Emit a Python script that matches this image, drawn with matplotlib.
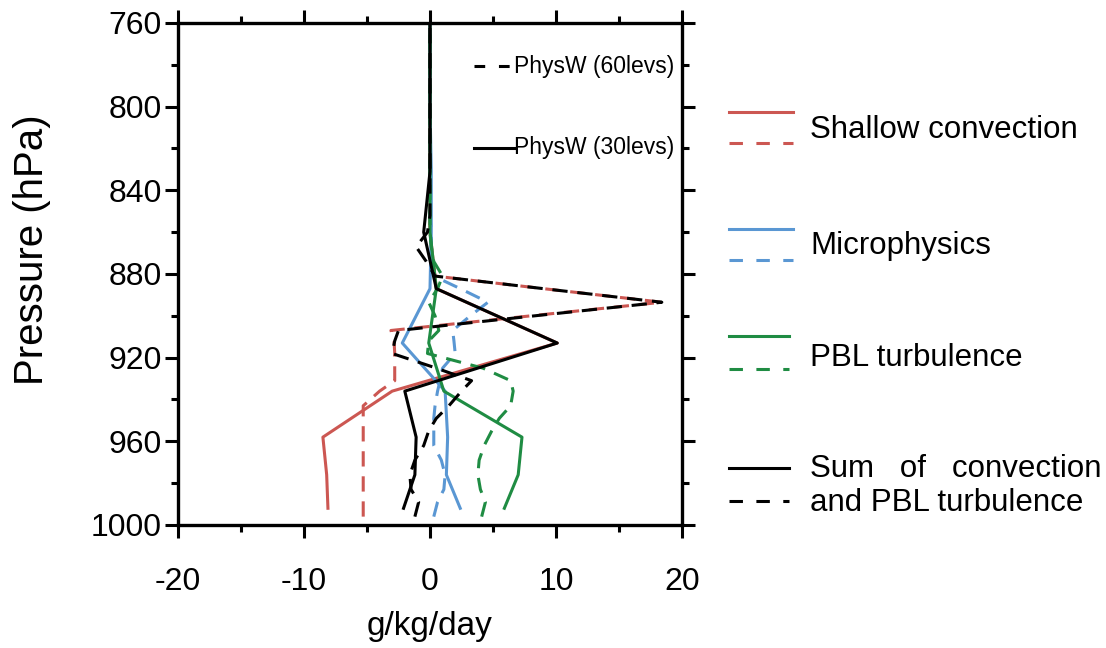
import numpy as np
import matplotlib
matplotlib.use('Agg')
import matplotlib.pyplot as plt
from matplotlib.lines import Line2D

# pressure levels (hPa) of the two vertical grids
LEV30 = [992, 976, 958, 936, 913, 887, 860, 831, 800, 768, 735]
LEV60 = [996, 989, 983, 976, 969, 962, 955, 949, 943, 936, 931, 925, 918, 912,
         907, 900, 893.5, 887, 881, 874, 867, 860, 852, 843, 833, 822, 810,
         797, 783, 768, 752]

# tendencies (g/kg/day), 30-level run
SHALLOW30 = [-8.1, -8.2, -8.5, -3.0, 10.1, 0.5, 0.0, 0.0, 0.0, 0.0, 0.0]
MICRO30   = [2.4, 1.3, 1.4, 1.2, -2.2, 0.0, 0.1, 0.1, 0.0, 0.0, 0.0]
PBL30     = [5.9, 7.0, 7.3, 1.1, -0.1, 0.5, 0.0, 0.0, 0.0, 0.0, 0.0]
SUM30     = [-2.1, -1.2, -1.1, -2.0, 10.1, 0.5, -0.5, 0.0, 0.0, 0.0, 0.0]

# tendencies (g/kg/day), 60-level run
SHALLOW60 = [-5.3, -5.3, -5.3, -5.3, -5.3, -5.3, -5.3, -5.3, -5.3, -4.0, -2.8,
             -2.8, -2.8, -2.85, -3.1, 8.0, 18.4, 9.0, 0.4, 0.2, 0.1, 0.0, 0.0,
             0.0, 0.0, 0.0, 0.0, 0.0, 0.0, 0.0, 0.0]
MICRO60   = [0.3, 0.6, 1.1, 1.2, 0.9, 0.3, 0.3, 0.3, 0.4, 0.6, 0.8, 1.0, 2.0,
             1.9, 1.8, 3.2, 4.6, 2.4, 0.3, 0.2, 0.1, 0.1, 0.0, 0.0, 0.0, 0.0,
             0.0, 0.0, 0.0, 0.0, 0.0]
PBL60     = [4.1, 4.4, 4.0, 3.8, 3.9, 4.3, 4.9, 5.5, 6.4, 6.6, 6.4, 4.2, -0.2,
             -0.1, 0.7, 0.4, -0.1, 0.6, 1.0, 0.3, 0.1, 0.0, 0.0, 0.0, 0.0, 0.0,
             0.0, 0.0, 0.0, 0.0, 0.0]
SUM60     = [-1.2, -0.9, -1.5, -1.6, -1.2, -0.5, -0.1, 0.5, 1.5, 2.5, 3.3, 0.5,
             -3.0, -2.8, -2.5, 8.3, 18.4, 9.0, 0.4, -0.3, -1.1, -0.2, 0.0, 0.0,
             0.0, 0.0, 0.0, 0.0, 0.0, 0.0, 0.0]

RED   = '#CC5752'
BLUE  = '#5A97D3'
GREEN = '#1F8C43'
BLACK = 'black'

LW = 2.2
DASH = (5, 3.2)

plt.rcParams['font.family'] = ['Liberation Sans', 'DejaVu Sans']
plt.rcParams['axes.unicode_minus'] = False

W, H = 1106, 648
fig = plt.figure(figsize=(W / 100, H / 100), dpi=100)
ax = fig.add_axes([178 / W, 1 - 525 / H, 504 / W, 502 / H])

series = [
    (SHALLOW30, SHALLOW60, RED),
    (MICRO30, MICRO60, BLUE),
    (PBL30, PBL60, GREEN),
    (SUM30, SUM60, BLACK),
]
for v30, v60, col in series:
    ax.plot(v60, LEV60, color=col, lw=LW, dashes=DASH)
    ax.plot(v30, LEV30, color=col, lw=LW)

ax.set_xlim(-20, 20)
ax.set_ylim(1000, 760)
ax.set_xticks([-20, -10, 0, 10, 20])
ax.set_xticks(np.arange(-20, 21, 5), minor=True)
ax.set_yticks(np.arange(760, 1001, 40))
ax.set_yticks(np.arange(760, 1001, 20), minor=True)
ax.tick_params(which='both', direction='out', width=2.2,
               top=True, right=True, labelsize=23)
ax.tick_params(which='major', length=9.5)
ax.tick_params(which='minor', length=5)
ax.tick_params(axis='x', which='major', pad=21)
ax.tick_params(axis='y', which='major', pad=2)
for s in ax.spines.values():
    s.set_linewidth(2.4)

# axis titles placed in pixel positions of the reference
fig.text(430 / W, 1 - 626 / H, 'g/kg/day', fontsize=24,
         ha='center', va='center')
fig.text(32 / W, 1 - 250 / H, 'Pressure (hPa)', fontsize=29, rotation=90,
         ha='center', va='center')

# in-axes key for the two grids
ax.add_line(Line2D([0.587, 0.667], [0.914, 0.914], transform=ax.transAxes,
                   color=BLACK, lw=LW, dashes=(3.5, 4.5)))
ax.text(0.667, 0.914, 'PhysW (60levs)', transform=ax.transAxes,
        fontsize=16.5, va='center', ha='left')
ax.add_line(Line2D([0.587, 0.667], [0.751, 0.751], transform=ax.transAxes,
                   color=BLACK, lw=LW))
ax.text(0.667, 0.751, 'PhysW (30levs)', transform=ax.transAxes,
        fontsize=16.5, va='center', ha='left')

# legend on the right, placed in pixel positions
def fx(px):
    return px / W

def fy(py):
    return 1 - py / H

legend = [
    (RED,   111.7, 143.3, 130, 'Shallow convection', 793),
    (BLUE,  229,   260,   246, 'Microphysics', 793),
    (GREEN, 335.7, 369,   358, 'PBL turbulence', 789),
    (BLACK, 467.7, 501,   486, 'Sum   of   convection\nand PBL turbulence', 789),
]
for col, ys, yd, yt, lbl, xe in legend:
    fig.add_artist(Line2D([fx(729), fx(xe)], [fy(ys), fy(ys)], color=col, lw=LW))
    fig.add_artist(Line2D([fx(729), fx(xe)], [fy(yd), fy(yd)], color=col, lw=LW,
                          dashes=(4.4, 4.4)))
    fig.text(fx(810), fy(yt), lbl, fontsize=22.5, va='center', ha='left',
             linespacing=1.2)

fig.savefig('out.png', dpi=100)
plt.close(fig)
